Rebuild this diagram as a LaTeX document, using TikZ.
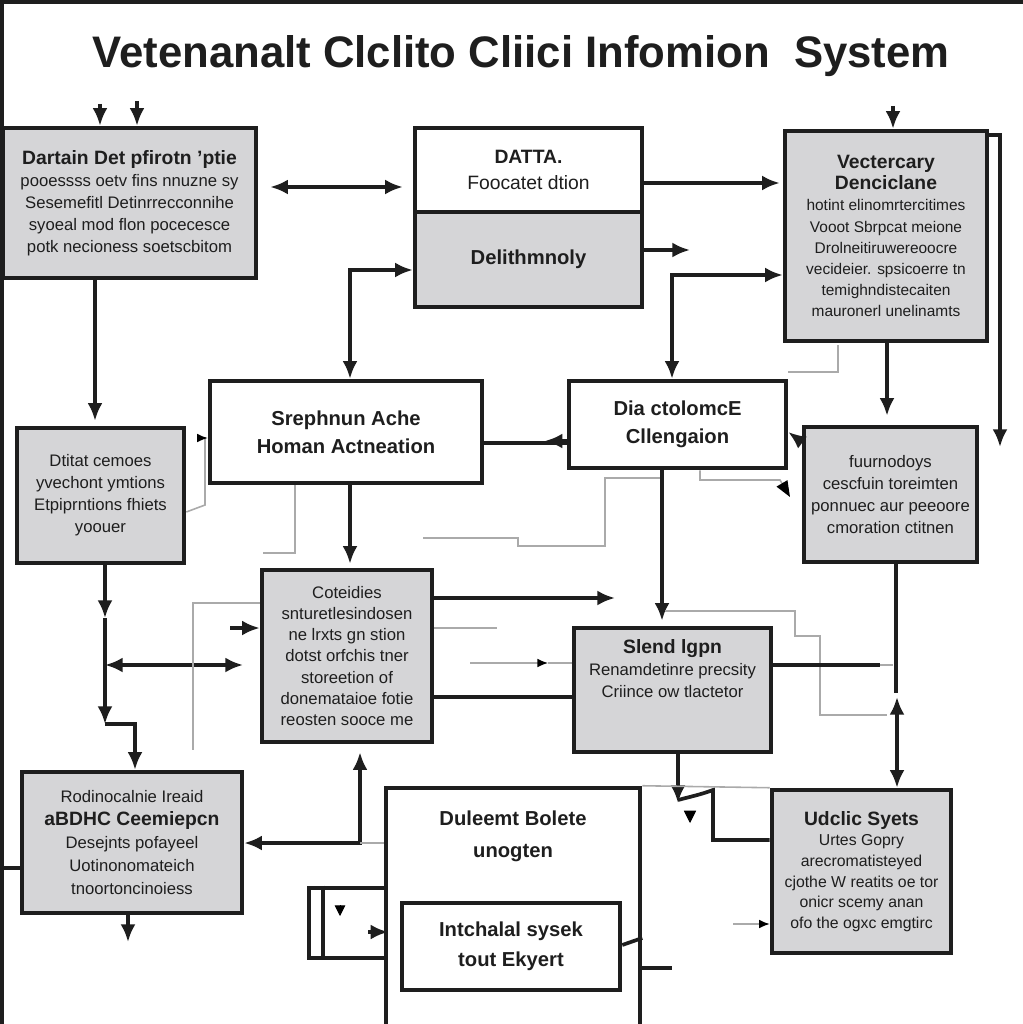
\documentclass[tikz,border=0pt]{standalone}
\usepackage{fontspec}
\usepackage{graphicx}
\setmainfont{Liberation Sans}
\usepackage{tikz}
\usetikzlibrary{arrows.meta}
\definecolor{boxgray}{RGB}{213,213,215}
\definecolor{linegray}{RGB}{170,170,170}
\definecolor{inkgray}{RGB}{30,30,30}
\newcommand{\hd}[1]{{\fontsize{11}{13}\selectfont\bfseries #1}}

\begin{document}
\begin{tikzpicture}[x=0.02cm,y=-0.02cm,>={Latex[length=10pt,width=8.5pt]},
  box/.style={rectangle,draw=inkgray,line width=2.6pt,fill=boxgray,align=center,inner sep=2pt,text=inkgray,font=\fontsize{9.5}{12.5}\selectfont},
  wbox/.style={box,fill=white},
  hfont/.style={font=\fontsize{11.5}{16}\selectfont\bfseries},
  conn/.style={line width=2.1pt,draw=inkgray},
  arr/.style={conn,->},
  dbl/.style={conn,<->},
  gline/.style={line width=0.9pt,draw=linegray},
  tip/.style={-{Latex[length=6pt,width=5pt,black]}}]
\useasboundingbox (0,0) rectangle (1023,1024);
\fill[white] (0,0) rectangle (1023,1024);
\draw[line width=2.5pt,inkgray] (2,1024) -- (2,2) -- (1023,2);

\node[anchor=base,text=inkgray] (title) at (521,68) {\resizebox{17.14cm}{0.64cm}{\bfseries Vetenanalt Clclito Cliici Infomion\ \ System}};

\node[box,minimum width=5.06cm,minimum height=3cm] (b1) at (129.5,203) {\hd{Dartain Det pfirotn ’ptie}\\pooessss oetv fins nnuzne sy\\Sesemefitl Detinrrecconnihe\\syoeal mod flon pocecesce\\potk necioness soetscbitom};
\node[wbox,minimum width=4.54cm,minimum height=1.68cm,font=\fontsize{11}{15}\selectfont] (b2a) at (528.5,170) {\textbf{DATTA.}\\Foocatet dtion};
\node[box,minimum width=4.54cm,minimum height=1.9cm,hfont] (b2b) at (528.5,259.5) {Delithmnoly};
\node[box,minimum width=4.04cm,minimum height=4.2cm,font=\fontsize{8.8}{12}\selectfont] (b3) at (886,236) {\hd{Vectercary}\\\hd{Denciclane}\\hotint elinomrtercitimes\\Vooot Sbrpcat meione\\Drolneitiruwereoocre\\vecideier. spsicoerre tn\\temighndistecaiten\\mauronerl unelinamts};
\node[wbox,minimum width=5.44cm,minimum height=2.04cm,hfont] (b4) at (346,432) {Srephnun Ache\\Homan Actneation};
\node[wbox,minimum width=4.34cm,minimum height=1.74cm,hfont] (b5) at (677.5,424.5) {Dia ctolomcE\\Cllengaion};
\node[box,minimum width=3.34cm,minimum height=2.7cm] (b6) at (100.5,495.5) {Dtitat cemoes\\yvechont ymtions\\Etpiprntions fhiets\\yoouer};
\node[box,minimum width=3.46cm,minimum height=2.7cm] (b7) at (890.5,494.5) {fuurnodoys\\cescfuin toreimten\\ponnuec aur peeoore\\cmoration ctitnen};
\node[box,minimum width=3.4cm,minimum height=3.44cm,font=\fontsize{9.5}{12}\selectfont] (b8) at (347,656) {Coteidies\\snturetlesindosen\\ne lrxts gn stion\\dotst orfchis tner\\storeetion of\\donemataioe fotie\\reosten sooce me};
\node[box,minimum width=3.94cm,minimum height=2.48cm] (b9) at (672.5,690) {\hd{Slend lgpn}\\Renamdetinre precsity\\Criince ow tlactetor\\[12pt]\mbox{}};
\node[box,minimum width=4.4cm,minimum height=2.82cm,font=\fontsize{9.5}{13}\selectfont] (b10) at (132,842.5) {Rodinocalnie Ireaid\\\hd{aBDHC Ceemiepcn}\\Desejnts pofayeel\\Uotinonomateich\\tnoortoncinoiess};
\node[wbox,minimum width=1.54cm,minimum height=1.4cm] (sb) at (347.5,923) {};
\node[wbox,minimum width=5.08cm,minimum height=4.84cm] (b11) at (513,909) {};
\node[align=center,text=inkgray,font=\fontsize{11.5}{18}\selectfont\bfseries] (b11t) at (513,836) {Duleemt Bolete\\unogten};
\node[wbox,minimum width=4.36cm,minimum height=1.74cm,font=\fontsize{11.5}{17}\selectfont\bfseries] (b11b) at (511,946.5) {Intchalal sysek\\tout Ekyert};
\node[box,minimum width=3.58cm,minimum height=3.26cm,font=\fontsize{9}{11.8}\selectfont] (b12) at (861.5,871.5) {\hd{Udclic Syets}\\Urtes Gopry\\arecromatisteyed\\cjothe W reatits oe tor\\onicr scemy anan\\ofo the ogxc emgtirc};

\coordinate (in1a) at (100,104);
\coordinate (in1b) at (137,101);
\coordinate (out2b) at (690,250);
\coordinate (in3) at (893,106);
\coordinate (hook3) at (1000,447);
\coordinate (bend6) at (205,505);
\coordinate (g5a) at (662,478);
\coordinate (g5b) at (605,546);
\coordinate (g5c) at (518,538);
\coordinate (g5d) at (423,538);
\coordinate (g5f) at (780,480);
\coordinate (g5g) at (790,497);
\coordinate (g4) at (263,553);
\coordinate (g3a) at (788,372);
\coordinate (g3b) at (838,345);
\coordinate (g9a) at (665,611);
\coordinate (g9b) at (795,636);
\coordinate (g9c) at (820,715);
\coordinate (g9d) at (887,715);
\coordinate (out9) at (880,665);
\coordinate (g9e) at (893,665);
\coordinate (mid7) at (896,693);
\coordinate (mid7b) at (897,697);
\coordinate (out8) at (615,598);
\coordinate (g8a) at (497,628);
\coordinate (g8b) at (470,663);
\coordinate (g8c) at (548,663);
\coordinate (in8) at (230,628);
\coordinate (g8d) at (193,750);
\coordinate (j6a) at (105,618);
\coordinate (j6b) at (105,665);
\coordinate (j6c) at (105,724);
\coordinate (end8) at (243,665);
\coordinate (fr10) at (2,868);
\coordinate (out10) at (128,942);
\coordinate (j10) at (360,843);
\coordinate (in9a) at (678,803);
\coordinate (w9) at (713,790);
\coordinate (out11) at (672,968);
\coordinate (in12) at (733,924);

\draw[arr] (in1a) -- (in1a |- b1.north);
\draw[arr] (in1b) -- (in1b |- b1.north);
\draw[dbl,shorten <=0.24cm,shorten >=0.2cm] (b1.east |- 0,187) -- (b2a.west |- 0,187);
\draw[arr,shorten >=0.06cm] (b2a.east |- 0,183) -- (b3.west |- 0,183);
\draw[arr] (b2b.east |- out2b) -- (out2b);
\draw[dbl] (b4.north -| 350,0) |- (b2b.west |- 0,270);
\draw[dbl] (b5.north -| 672,0) |- (b3.west |- 0,275);
\draw[arr,shorten >=0.18cm] (b3.south -| 887,0) -- (b7.north -| 887,0);
\draw[arr] (b3.north east |- 0,135) -| (hook3);
\draw[arr] (in3) -- (in3 |- b3.north);
\draw[arr,shorten >=0.1cm] (b1.south -| 95,0) -- (b6.north -| 95,0);
\draw[gline,tip] (b6.east |- 0,512) -- (bend6) |- (b4.west |- 0,438);
\draw[conn] (b4.east |- 0,443) -- (b5.west |- 0,443);
\draw[arr] (b5.west |- 0,441) -- ++(-22,0);
\draw[arr] (b7.west |- 0,442) -- (b5.east |- 0,432);
\draw[gline,-{Triangle[black,length=9pt,width=7pt]}] (b5.south -| 700,0) |- (g5f) -- (g5g);
\draw[gline] (g5a) -| (g5b) -| (g5c) -- (g5d);
\draw[gline] (b4.south -| 295,0) |- (g4);
\draw[gline] (g3a) -| (g3b);
\draw[arr,shorten >=0.08cm] (b4.south -| 350,0) -- (b8.north -| 350,0);
\draw[arr,shorten >=0.1cm] (b5.south -| 662,0) -- (b9.north -| 662,0);
\draw[gline] (g9a) -| (g9b) -| (g9c) -- (g9d);
\draw[conn] (b9.east |- out9) -- (out9);
\draw[gline] (out9) -- (g9e);
\draw[conn] (b7.south -| mid7) -- (mid7);
\draw[dbl] (mid7b) -- (b12.north -| mid7b);
\draw[arr] (b8.east |- out8) -- (out8);
\draw[gline] (b8.east |- g8a) -- (g8a);
\draw[gline,tip] (g8b) -- (g8c);
\draw[gline] (g8c) -- (b9.west |- g8c);
\draw[conn] (b8.east |- 0,697) -- (b9.west |- 0,697);
\draw[arr] (in8) -- (b8.west |- in8);
\draw[dbl] (j6b) -- (end8);
\draw[gline] (b8.west |- 0,603) -| (g8d);
\draw[arr] (b6.south -| j6a) -- (j6a);
\draw[arr] (j6a) -- (j6c);
\draw[arr] (j6c) -| (b10.north -| 135,0);
\draw[conn] (fr10) -- (b10.west |- fr10);
\draw[arr] (b10.south -| out10) -- (out10);
\draw[dbl,shorten <=0.16cm] (b8.south -| j10) |- (b10.east |- j10);
\draw[gline] (j10) -- (b11.west |- j10);
\draw[conn] ([xshift=0.32cm]sb.north west) -- ([xshift=0.32cm]sb.south west);
\draw[-{Triangle[length=6pt,width=6pt]}] (340,905) -- (340,916);
\draw[arr] (368,932) -- (sb.east |- 0,932);
\draw[arr] (b9.south -| in9a) -- (in9a);
\draw[conn] (678,800) to[out=15,in=200] (w9) |- (b12.west |- 0,840);
\draw[gline] (b11.north east) -- (b12.north west);
\draw[-{Triangle[length=7pt,width=7pt]}] (690,812) -- (690,823);
\draw[conn] (b11b.east |- 0,945) -- (b11.east |- 0,938);
\draw[conn] (b11.east |- out11) -- (out11);
\draw[gline,tip] (in12) -- (b12.west |- in12);
\end{tikzpicture}
\end{document}
